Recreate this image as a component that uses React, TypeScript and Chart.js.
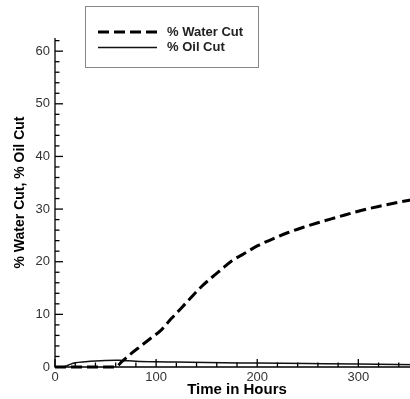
import React, { useEffect, useRef } from "react";
import { Chart, registerables } from "chart.js";
Chart.register(...registerables);

const waterHours = [0, 10, 20, 30, 40, 50, 60, 66, 75, 85, 95, 105, 115, 125, 135, 145, 155, 165, 175, 185, 200, 215, 230, 245, 260, 280, 300, 320, 340, 360];
const waterCut = [0, 0, 0, 0, 0, 0, 0, 1.0, 2.5, 4.0, 5.5, 7.0, 9.2, 11.2, 13.3, 15.3, 17.0, 18.6, 20.2, 21.3, 23.0, 24.3, 25.5, 26.5, 27.4, 28.5, 29.6, 30.5, 31.3, 32.0];
const oilHours = [0, 10, 15, 20, 30, 40, 50, 60, 66, 80, 100, 120, 150, 200, 250, 300, 360];
const oilCut = [0, 0.1, 0.5, 0.8, 1.0, 1.15, 1.25, 1.3, 1.25, 1.1, 1.0, 0.95, 0.85, 0.75, 0.65, 0.55, 0.45];
const xTicks = [0, 100, 200, 300];
const yTicks = [0, 10, 20, 30, 40, 50, 60];
const seriesLabels = ["% Water Cut", "% Oil Cut"];
const xTitle = "Time in Hours";
const yTitle = "% Water Cut, % Oil Cut";

const FONT = "'Liberation Sans', Arial, sans-serif";
const X_MAX = 360;
const Y_MAX = 62.5;

const decor = {
  id: "decor",
  afterDraw(chart: any) {
    const ctx = chart.ctx as CanvasRenderingContext2D;
    const xs = chart.scales.x;
    const ys = chart.scales.y;
    const { left, right, top, bottom } = chart.chartArea;
    ctx.save();
    ctx.strokeStyle = "#000";
    ctx.lineWidth = 1.3;
    // axis lines
    ctx.beginPath();
    ctx.moveTo(left, top);
    ctx.lineTo(left, bottom);
    ctx.lineTo(right, bottom);
    ctx.stroke();
    // y ticks (inward)
    for (let v = 0; v <= Y_MAX; v += 2) {
      const major = v % 10 === 0;
      const py = ys.getPixelForValue(v);
      ctx.beginPath();
      ctx.moveTo(left, py);
      ctx.lineTo(left + (major ? 8 : 4.5), py);
      ctx.stroke();
    }
    // x ticks (inward)
    for (let v = 0; v <= X_MAX; v += 20) {
      const major = v % 100 === 0;
      const px = xs.getPixelForValue(v);
      ctx.beginPath();
      ctx.moveTo(px, bottom);
      ctx.lineTo(px, bottom - (major ? 8 : 4.5));
      ctx.stroke();
    }
    // titles
    ctx.fillStyle = "#000";
    ctx.textAlign = "center";
    ctx.textBaseline = "middle";
    ctx.font = `bold 15px ${FONT}`;
    ctx.fillText(xTitle, (left + right) / 2, 390);
    ctx.save();
    ctx.translate(20, (top + bottom) / 2 - 10);
    ctx.rotate(-Math.PI / 2);
    ctx.font = `bold 14px ${FONT}`;
    ctx.fillText(yTitle, 0, 0);
    ctx.restore();
    // legend
    ctx.fillStyle = "#fff";
    ctx.fillRect(85.5, 6.5, 173, 61);
    ctx.strokeStyle = "#888";
    ctx.lineWidth = 1;
    ctx.strokeRect(85.5, 6.5, 173, 61);
    const rows = [32, 47.5];
    chart.data.datasets.forEach((ds: any, i: number) => {
      ctx.save();
      ctx.strokeStyle = ds.borderColor;
      ctx.lineWidth = ds.borderWidth;
      ctx.setLineDash(ds.borderDash || []);
      ctx.beginPath();
      ctx.moveTo(98, rows[i]);
      ctx.lineTo(157, rows[i]);
      ctx.stroke();
      ctx.restore();
      ctx.fillStyle = "#222";
      ctx.font = `bold 13px ${FONT}`;
      ctx.textAlign = "left";
      ctx.textBaseline = "middle";
      ctx.fillText(ds.label, 167, rows[i]);
    });
    ctx.restore();
  },
};

export default function App() {
  const ref = useRef<HTMLCanvasElement | null>(null);
  useEffect(() => {
    if (!ref.current) return;
    const chart = new Chart(ref.current, {
      type: "line",
      data: {
        datasets: [
          {
            label: seriesLabels[0],
            data: waterHours.map((t, i) => ({ x: t, y: waterCut[i] })),
            borderColor: "#000",
            borderWidth: 3,
            borderDash: [11, 5],
            pointRadius: 0,
            cubicInterpolationMode: "monotone",
            clip: false,
            fill: false,
          },
          {
            label: seriesLabels[1],
            data: oilHours.map((t, i) => ({ x: t, y: oilCut[i] })),
            borderColor: "#111",
            borderWidth: 1.5,
            pointRadius: 0,
            cubicInterpolationMode: "monotone",
            clip: false,
            fill: false,
          },
        ],
      },
      plugins: [decor],
      options: {
        responsive: false,
        animation: false,
        devicePixelRatio: 1,
        layout: { padding: { top: 38, right: 11, left: 0, bottom: 0 }, autoPadding: false },
        plugins: { legend: { display: false }, tooltip: { enabled: false } },
        scales: {
          x: {
            type: "linear",
            min: 0,
            max: X_MAX,
            grid: { display: false, drawTicks: false },
            border: { display: false },
            afterBuildTicks: (s: any) => {
              s.ticks = xTicks.map((value) => ({ value }));
            },
            afterFit: (s: any) => {
              s.height = 32;
            },
            ticks: {
              padding: 3,
              maxRotation: 0,
              color: "#333",
              font: { family: FONT, size: 13 },
            },
          },
          y: {
            type: "linear",
            min: 0,
            max: Y_MAX,
            grid: { display: false, drawTicks: false },
            border: { display: false },
            afterBuildTicks: (s: any) => {
              s.ticks = yTicks.map((value) => ({ value }));
            },
            afterFit: (s: any) => {
              s.width = 55;
            },
            ticks: {
              padding: 5,
              color: "#333",
              font: { family: FONT, size: 13 },
            },
          },
        },
      },
    } as any);
    return () => chart.destroy();
  }, []);
  return (
    <div style={{ position: "fixed", left: 0, top: 0, width: 410, height: 399, overflow: "hidden", background: "#fff" }}>
      <canvas ref={ref} width={430} height={399} style={{ display: "block", width: 430, height: 399 }} />
    </div>
  );
}
